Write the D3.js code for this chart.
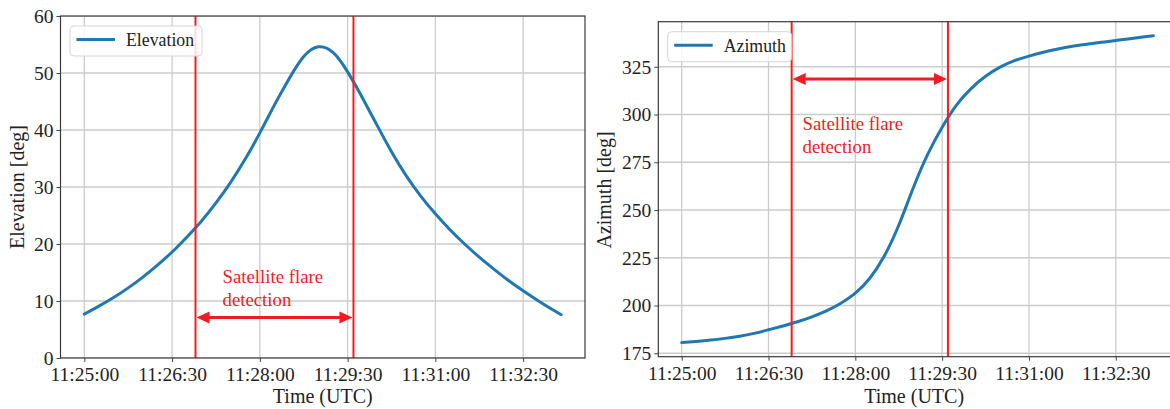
<!DOCTYPE html>
<html>
<head>
<meta charset="utf-8">
<script src="https://cdn.jsdelivr.net/npm/d3@7"></script>
<style>
  html, body { margin: 0; padding: 0; background: #fff; }
  svg { display: block; }
  text { font-family: "Liberation Serif", "Times New Roman", serif; }
</style>
</head>
<body>
<svg id="chart" width="1170" height="409"></svg>
<script>
// ---------------- data ----------------
const times = ["11:25:00","11:25:15","11:25:30","11:25:45","11:26:00","11:26:15","11:26:30","11:26:45",
  "11:27:00","11:27:15","11:27:30","11:27:45","11:28:00","11:28:15","11:28:30","11:28:45",
  "11:29:00","11:29:15","11:29:30","11:29:45","11:30:00","11:30:15","11:30:30","11:30:45",
  "11:31:00","11:31:15","11:31:30","11:31:45","11:32:00","11:32:15","11:32:30","11:32:45",
  "11:33:00","11:33:09"];
const elevation = [7.7, 9.1, 10.6, 12.3, 14.2, 16.3, 18.6, 21.2,
  24.0, 27.2, 30.8, 34.9, 39.5, 44.4, 49.0, 52.9,
  54.6, 53.6, 50.2, 45.7, 40.9, 36.2, 32.0, 28.4,
  25.3, 22.5, 20.0, 17.7, 15.6, 13.6, 11.8, 10.1,
  8.5, 7.6];
const azimuth = [180.6, 181.2, 181.9, 182.8, 183.9, 185.4, 187.3, 189.3,
  191.5, 194.1, 197.2, 201.2, 206.5, 214.3, 225.9, 242.0,
  261.5, 279.1, 293.3, 305.0, 313.6, 320.0, 324.8, 328.2,
  330.6, 332.6, 334.3, 335.7, 336.8, 337.8, 338.8, 339.7,
  340.7, 341.3];
const xTickLabels = ["11:25:00","11:26:30","11:28:00","11:29:30","11:31:00","11:32:30"];
const elevationTicks = [0, 10, 20, 30, 40, 50, 60];
const azimuthTicks = [175, 200, 225, 250, 275, 300, 325];
const flareTimes = ["11:26:54", "11:29:36"];
const flareLabel = ["Satellite flare", "detection"];

// ---------------- helpers ----------------
const parse = d3.timeParse("%H:%M:%S");
const fmt = d3.timeFormat("%H:%M:%S");
const svg = d3.select("#chart");
const BLUE = "#1f77b4";
const RED = "#f01c22";
const GRID = "#cccccc";

function drawPanel(cfg) {
  const g = svg.append("g");
  const tParsed = times.map(parse);
  const t0 = tParsed[0], t1 = tParsed[tParsed.length - 1];
  const span = t1 - t0;
  const x = d3.scaleTime()
    .domain([new Date(+t0 - span * cfg.padFrac), new Date(+t1 + span * 0.05)])
    .range([cfg.left, cfg.right]);
  const y = d3.scaleLinear().domain(cfg.yDomain).range([cfg.bottom, cfg.top]);

  const clipId = "clip" + cfg.id;
  svg.append("defs").append("clipPath").attr("id", clipId)
    .append("rect").attr("x", cfg.left).attr("y", cfg.top)
    .attr("width", cfg.right - cfg.left).attr("height", cfg.bottom - cfg.top);

  const xTicks = xTickLabels.map(parse);

  // grid
  const grid = g.append("g").attr("clip-path", `url(#${clipId})`);
  grid.selectAll(".vg").data(xTicks).join("line")
    .attr("x1", d => x(d)).attr("x2", d => x(d))
    .attr("y1", cfg.top).attr("y2", cfg.bottom)
    .attr("stroke", GRID).attr("stroke-width", 1.3);
  grid.selectAll(".hg").data(cfg.yTicks).join("line")
    .attr("x1", cfg.left).attr("x2", cfg.right)
    .attr("y1", d => y(d)).attr("y2", d => y(d))
    .attr("stroke", GRID).attr("stroke-width", 1.3);

  // axes
  const xAxis = d3.axisBottom(x).tickValues(xTicks).tickFormat(fmt).tickSize(4).tickPadding(5);
  const yAxis = d3.axisLeft(y).tickValues(cfg.yTicks).tickSize(4).tickPadding(3);
  const gx = g.append("g").attr("transform", `translate(0,${cfg.bottom})`).call(xAxis);
  const gy = g.append("g").attr("transform", `translate(${cfg.left},0)`).call(yAxis);
  [gx, gy].forEach(a => {
    a.select(".domain").remove();
    a.selectAll(".tick line").attr("stroke", "#444").attr("stroke-width", 1);
    a.selectAll(".tick text").attr("font-size", 19.5).attr("fill", "#222")
      .attr("font-family", "Liberation Serif, serif");
  });

  // line
  const line = d3.line()
    .x((d, i) => x(tParsed[i]))
    .y(d => y(d))
    .curve(d3.curveNatural);
  g.append("path").datum(cfg.values).attr("clip-path", `url(#${clipId})`)
    .attr("d", line).attr("fill", "none").attr("stroke", BLUE)
    .attr("stroke-width", 3).attr("stroke-linecap", "round");

  // flare lines
  const fx = flareTimes.map(parse).map(x);
  g.selectAll(".fl").data(fx).join("line")
    .attr("x1", d => d).attr("x2", d => d)
    .attr("y1", cfg.top).attr("y2", cfg.bottom)
    .attr("stroke", "#ff1a1a").attr("stroke-width", 2);

  // arrow
  const ay = y(cfg.arrowValue);
  const hl = 13, hw = 6;
  g.append("line").attr("x1", fx[0] + hl - 1).attr("x2", fx[1] - hl + 1)
    .attr("y1", ay).attr("y2", ay).attr("stroke", RED).attr("stroke-width", 3);
  g.append("path")
    .attr("d", `M${fx[0] + 1},${ay} L${fx[0] + 1 + hl},${ay - hw} L${fx[0] + 1 + hl},${ay + hw} Z`)
    .attr("fill", RED);
  g.append("path")
    .attr("d", `M${fx[1] - 1},${ay} L${fx[1] - 1 - hl},${ay - hw} L${fx[1] - 1 - hl},${ay + hw} Z`)
    .attr("fill", RED);

  // annotation text
  const at = g.append("text").attr("x", cfg.labelX).attr("y", cfg.labelY)
    .attr("fill", RED).attr("font-size", 18.8);
  flareLabel.forEach((s, i) => at.append("tspan").attr("x", cfg.labelX).attr("dy", i === 0 ? 0 : 22.5).text(s));

  // spines
  g.append("rect").attr("x", cfg.left).attr("y", cfg.top)
    .attr("width", cfg.right - cfg.left).attr("height", cfg.bottom - cfg.top)
    .attr("fill", "none").attr("stroke", "#3a3a3a").attr("stroke-width", 1.2);

  // legend
  const lg = g.append("g");
  lg.append("rect").attr("x", cfg.legend.x).attr("y", cfg.legend.y)
    .attr("width", cfg.legend.w).attr("height", 30).attr("rx", 4)
    .attr("fill", "rgba(255,255,255,0.85)").attr("stroke", "#d6d6d6").attr("stroke-width", 1);
  lg.append("line").attr("x1", cfg.legend.x + 6.5).attr("x2", cfg.legend.x + 45)
    .attr("y1", cfg.legend.y + 13.5).attr("y2", cfg.legend.y + 13.5)
    .attr("stroke", BLUE).attr("stroke-width", 3);
  lg.append("text").attr("x", cfg.legend.x + 56).attr("y", cfg.legend.y + 20)
    .attr("font-size", 17.8).attr("fill", "#222").text(cfg.name);

  // axis titles
  g.append("text").attr("x", (cfg.left + Math.min(cfg.right, 1170)) / 2 + cfg.xTitleShift)
    .attr("y", 403).attr("text-anchor", "middle").attr("font-size", 20).attr("fill", "#222")
    .text("Time (UTC)");
  g.append("text")
    .attr("transform", `translate(${cfg.yTitleX},${cfg.yTitleY}) rotate(-90)`)
    .attr("text-anchor", "middle").attr("font-size", 20).attr("fill", "#222")
    .text(cfg.yTitle);
}

drawPanel({
  id: 1, name: "Elevation", values: elevation, yTicks: elevationTicks,
  yDomain: [0, 60], left: 60.5, right: 585, top: 16, bottom: 358,
  padFrac: 0.05, arrowValue: 7.1, labelX: 222.5, labelY: 283,
  legend: { x: 70, y: 26, w: 132 }, yTitle: "Elevation [deg]", yTitleX: 24, yTitleY: 187,
  xTitleShift: 0
});
drawPanel({
  id: 2, name: "Azimuth", values: azimuth, yTicks: azimuthTicks,
  yDomain: [173.2, 348.6], left: 658.3, right: 1177, top: 21.7, bottom: 356.7,
  padFrac: 0.0496, arrowValue: 318.6, labelX: 802.5, labelY: 130,
  legend: { x: 667.7, y: 31.7, w: 124 }, yTitle: "Azimuth [deg]", yTitleX: 611, yTitleY: 190,
  xTitleShift: 0
});
</script>
</body>
</html>
